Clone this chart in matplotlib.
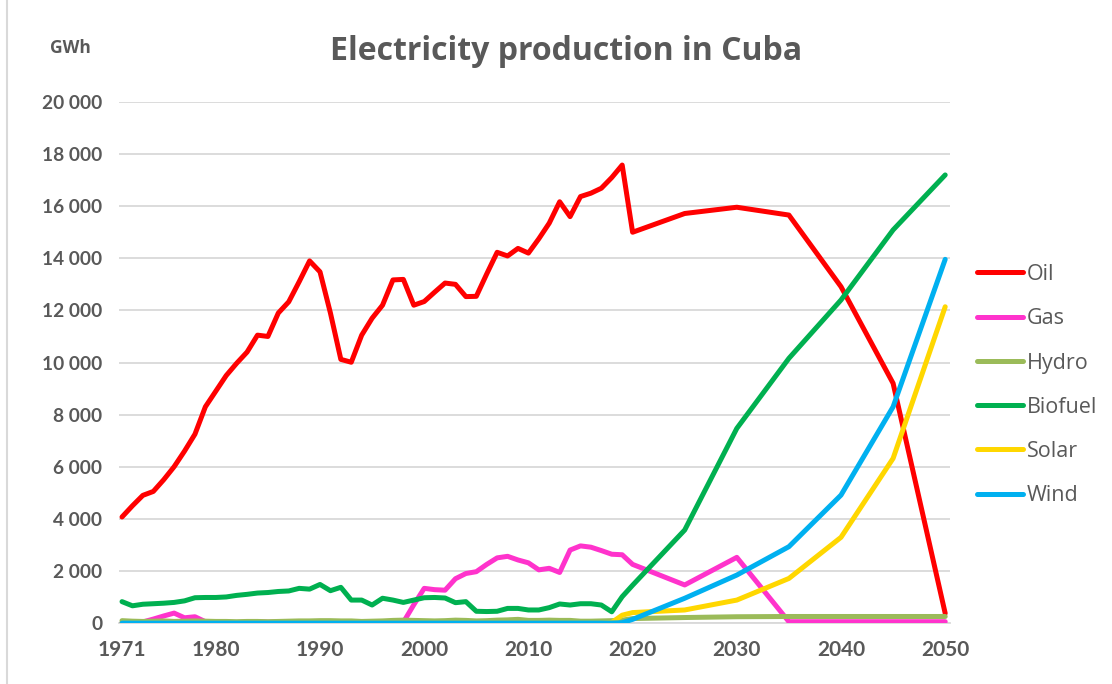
import matplotlib
matplotlib.use("Agg")
import matplotlib.pyplot as plt
from matplotlib.ticker import FuncFormatter
from matplotlib.lines import Line2D

# --- data (GWh) ---
years = list(range(1971, 2020)) + [2020, 2025, 2030, 2035, 2040, 2045, 2050]

oil = [4070, 4500, 4900, 5050, 5500, 6000, 6600, 7250, 8300, 8900,
       9500, 9970, 10400, 11050, 11000, 11900, 12330, 13100, 13900, 13480,
       11900, 10120, 10010, 11050, 11700, 12200, 13170, 13190, 12200, 12340,
       12700, 13050, 13000, 12530, 12540, 13400, 14230, 14090, 14380, 14200,
       14750, 15350, 16170, 15600, 16370, 16500, 16690, 17100, 17580,
       15000, 15720, 15960, 15660, 12910, 9200, 370]

gas = [0, 0, 40, 150, 270, 380, 200, 240, 50, 30,
       20, 20, 30, 50, 30, 40, 50, 20, 20, 20,
       20, 20, 20, 20, 30, 20, 20, 30, 700, 1330,
       1280, 1260, 1700, 1900, 1970, 2250, 2500, 2560, 2420, 2310,
       2040, 2100, 1940, 2800, 2960, 2910, 2780, 2640, 2620,
       2250, 1460, 2520, 50, 50, 50, 50]

hydro = [90, 70, 60, 70, 80, 60, 70, 80, 70, 60,
         60, 50, 60, 60, 50, 60, 70, 80, 80, 90,
         90, 80, 80, 60, 70, 80, 100, 110, 100, 90,
         80, 90, 110, 100, 80, 90, 110, 120, 140, 100,
         100, 110, 100, 100, 70, 70, 80, 90, 110,
         170, 210, 240, 250, 250, 250, 250]

biofuel = [820, 660, 720, 740, 760, 790, 850, 970, 980, 980,
           1000, 1060, 1100, 1150, 1170, 1210, 1230, 1330, 1300, 1480,
           1240, 1370, 880, 880, 690, 950, 880, 790, 880, 970,
           980, 960, 780, 820, 450, 440, 450, 560, 560, 500,
           500, 590, 730, 690, 740, 740, 690, 430, 1010,
           1450, 3570, 7470, 10160, 12400, 15090, 17200]

solar = [0] * 47 + [20, 300,
                    400, 500, 880, 1710, 3290, 6320, 12140]

wind = [0] * 48 + [10,
                   140, 950, 1840, 2930, 4910, 8300, 13960]

series = [("Oil", oil, "#ff0000"),
          ("Gas", gas, "#ff33cc"),
          ("Hydro", hydro, "#9bbb59"),
          ("Biofuel", biofuel, "#00b050"),
          ("Solar", solar, "#ffd700"),
          ("Wind", wind, "#00b0f0")]

xticks = [1971, 1980, 1990, 2000, 2010, 2020, 2030, 2040, 2050]

TXT = "#595959"
GRID = "#d9d9d9"
plt.rcParams["font.family"] = ["Lato", "DejaVu Sans"]
TEXT_FONT = ["Open Sans", "DejaVu Sans"]

fig = plt.figure(figsize=(11.12, 6.84), dpi=100)
ax = fig.add_axes([119 / 1112, 1 - 623 / 684, (950 - 119) / 1112, (623 - 102) / 684])

for name, vals, col in series:
    ax.plot(years, vals, color=col, lw=3.6, label=name, solid_capstyle="round",
            solid_joinstyle="round", zorder=3)

ax.set_xlim(1970.71, 2050.46)
ax.set_ylim(0, 20000)
ax.set_yticks(range(0, 20001, 2000))
ax.set_xticks(xticks)
ax.yaxis.set_major_formatter(FuncFormatter(lambda v, p: f"{int(v):,}".replace(",", " ")))
ax.grid(axis="y", color=GRID, lw=1.3, zorder=0)
for s in ["top", "right", "left"]:
    ax.spines[s].set_visible(False)
ax.spines["bottom"].set_color(GRID)
ax.spines["bottom"].set_linewidth(1.3)
ax.tick_params(axis="both", length=0)
ax.tick_params(axis="y", labelsize=13.8, labelcolor=TXT, pad=12)
ax.tick_params(axis="x", labelsize=15, labelcolor=TXT, pad=12)
for lab in ax.get_xticklabels() + ax.get_yticklabels():
    lab.set_fontweight("bold")

fig.text(566 / 1112, 1 - 51 / 684, "Electricity production in Cuba", ha="center",
         va="center", fontsize=23, fontweight="bold", color=TXT, family=TEXT_FONT)
fig.text(70 / 1112, 1 - 48 / 684, "GWh", ha="center", va="center",
         fontsize=12.5, fontweight="bold", color=TXT, family=TEXT_FONT)

leg = ax.legend(loc="upper left", bbox_to_anchor=(1.032, 0.689), frameon=False,
                prop={"family": TEXT_FONT, "size": 15.5}, handlelength=2.15,
                handletextpad=0.2, labelspacing=1.08, borderaxespad=0, borderpad=0)
for t in leg.get_texts():
    t.set_color(TXT)

# thin border on the left of the chart area
fig.add_artist(Line2D([7 / 1112, 7 / 1112], [0, 1], color=GRID, lw=1.5,
                      transform=fig.transFigure))

fig.savefig("out.png", dpi=100)
